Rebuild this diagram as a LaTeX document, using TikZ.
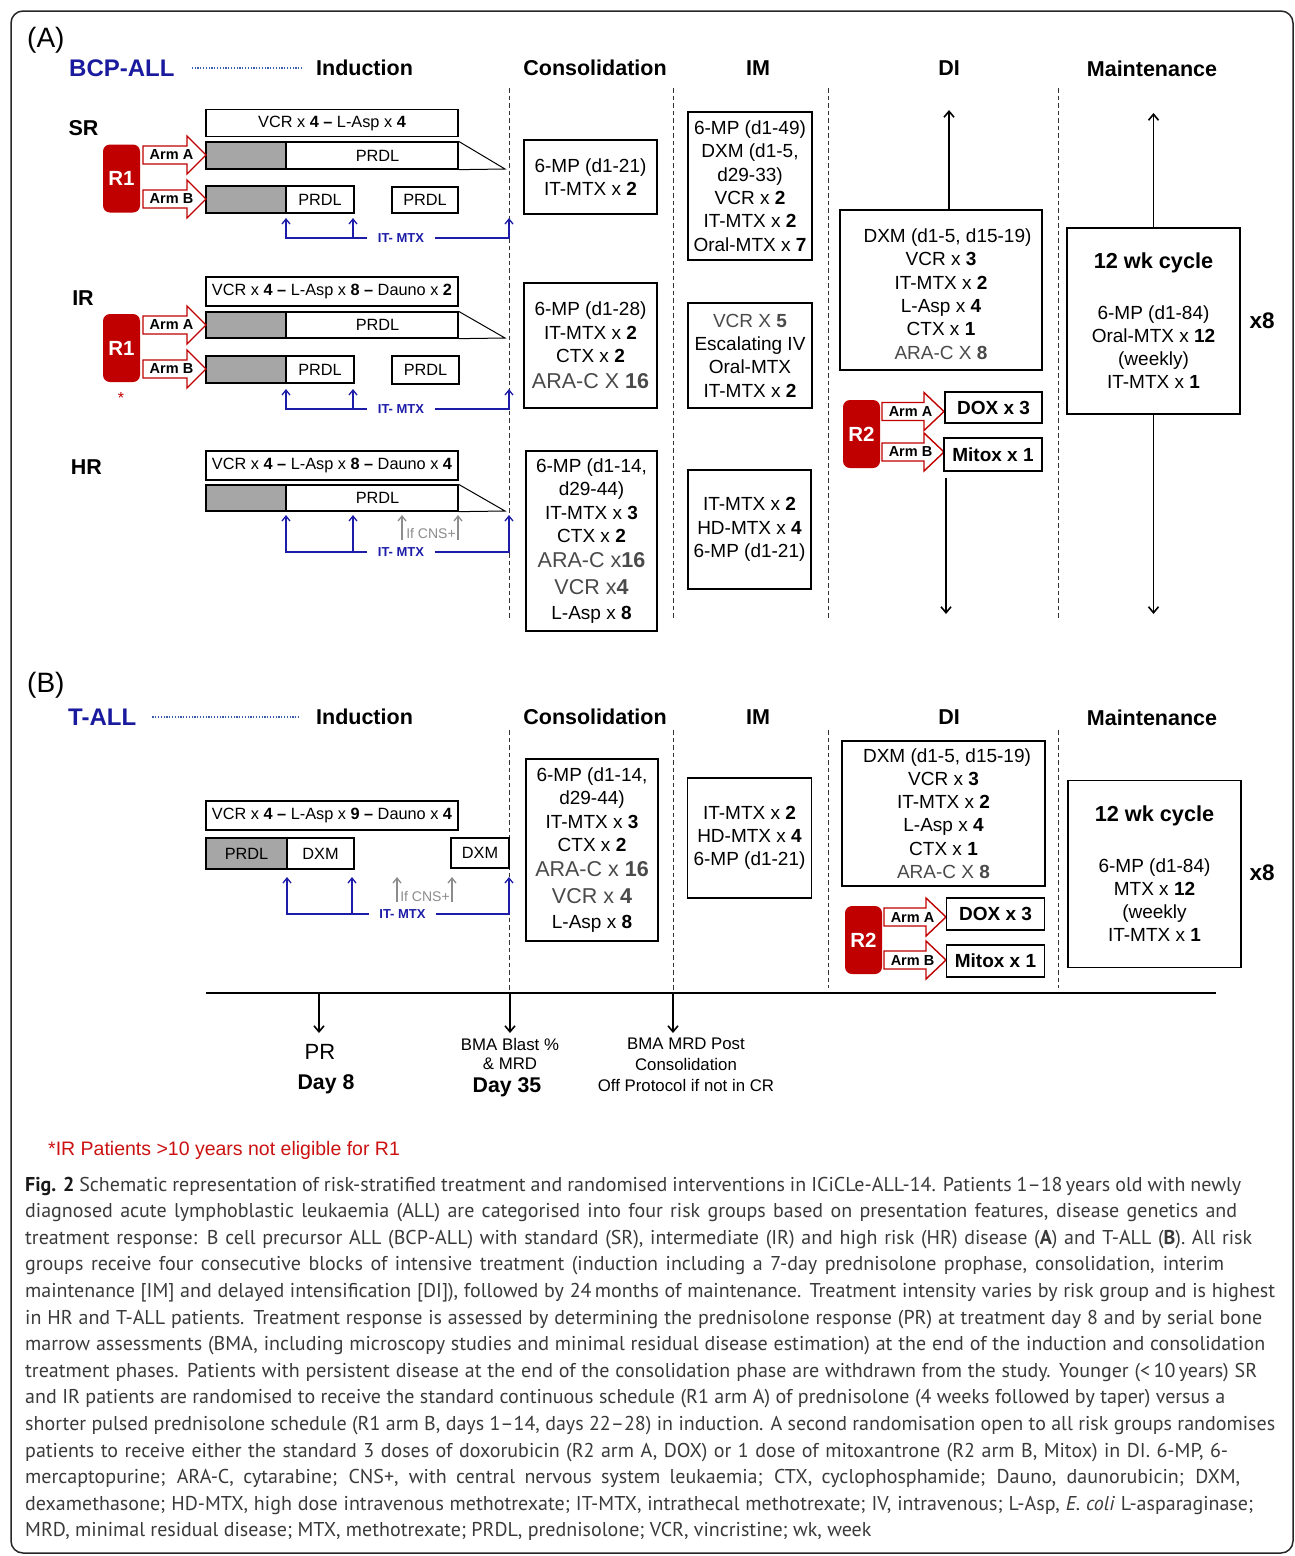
\documentclass[tikz,border=0pt]{standalone}
\usepackage{fontspec}
\setmainfont{Liberation Sans}
\newfontfamily\capfont{PT Sans}
\usetikzlibrary{arrows.meta}
\definecolor{rred}{HTML}{C00000}
\definecolor{bblue}{HTML}{1A1A9E}
\definecolor{dotblue}{HTML}{3A5DB0}
\definecolor{itblue}{HTML}{1C1CA8}
\definecolor{gfill}{HTML}{A6A6A6}
\definecolor{gtext}{HTML}{4A4A4A}
\definecolor{garrow}{HTML}{8C8C8C}
\definecolor{captxt}{HTML}{3A3A3A}
\definecolor{fnred}{HTML}{CC1111}
\newcommand\gbig{\fontsize{21.5}{23.3}\selectfont\color{gtext}}
\newcommand\capline[2]{\makebox[#1pt][s]{#2}}
\newcommand\armarr[6]{%
  \draw[armline] (#1,#4-9) -- (#2,#4-9) -- (#2,#4-19) -- (#3,#4) -- (#2,#4+19) -- (#2,#4+9) -- (#1,#4+9) -- cycle;
  \node[armtxt] (#5) at ({#1+28.5},#4) {#6};}
\begin{document}
\begin{tikzpicture}[x=1pt,y=-1pt,
  hdr/.style={font=\fontsize{21.5}{26}\selectfont\bfseries, inner sep=0pt},
  grp/.style={font=\fontsize{24}{28}\selectfont\bfseries, text=bblue, inner sep=0pt},
  panel/.style={font=\fontsize{28}{32}\selectfont, inner sep=0pt},
  risk/.style={font=\fontsize{21.5}{26}\selectfont\bfseries, inner sep=0pt},
  bx/.style={draw=black, line width=1.3pt, fill=white, inner sep=0pt, align=center, font=\fontsize{19}{23.3}\selectfont},
  bxb/.style={bx, font=\fontsize{19}{23}\selectfont\bfseries},
  ib/.style={draw=black, line width=1.3pt, fill=white, inner sep=0pt, font=\fontsize{16.3}{20}\selectfont},
  ig/.style={ib, fill=gfill},
  rbox/.style={fill=rred, rounded corners=7pt, text=white, inner sep=0pt, minimum width=37pt, minimum height=68pt, font=\fontsize{20.5}{24}\selectfont\bfseries},
  armline/.style={draw=rred, fill=white, line width=1.4pt, line join=miter},
  armtxt/.style={font=\fontsize{14.5}{17}\selectfont\bfseries, inner sep=0pt},
  itlbl/.style={text=itblue, font=\fontsize{13}{15}\selectfont\bfseries, inner xsep=10.5pt, inner ysep=0pt},
  itl/.style={draw=itblue, line width=1.3pt},
  ita/.style={itl, -{Straight Barb[length=5pt,width=8pt]}},
  cnsa/.style={draw=garrow, line width=1.3pt, -{Straight Barb[length=5pt,width=8pt]}},
  cnst/.style={text=garrow, font=\fontsize{14}{16}\selectfont, inner sep=0pt},
  phase/.style={draw=black!80, line width=1pt, dash pattern=on 4.5pt off 3pt},
  dotl/.style={draw=dotblue, line width=1.6pt, dash pattern=on 1.3pt off 1.5pt},
  blk/.style={draw=black, line width=1.6pt, -{Straight Barb[length=6pt,width=10pt]}},
  taper/.style={draw=black, line width=1pt},
  tlt/.style={font=\fontsize{16.8}{20}\selectfont, inner sep=0pt},
  tlb/.style={font=\fontsize{21.3}{26}\selectfont\bfseries, inner sep=0pt},
  xeight/.style={font=\fontsize{22.5}{26}\selectfont\bfseries, inner sep=0pt},
  capl/.style={anchor=base west, inner sep=0pt, text=captxt, font=\capfont\fontsize{20}{26}\selectfont}
]
\useasboundingbox (0,0) rectangle (1295,1556);
\draw[draw=black!85, line width=1.5pt, rounded corners=12pt] (11,11) rectangle (1293,1553);

% ================= Panel A header
\node[panel, anchor=west] (pA) at (27,40) {(A)};
\node[grp, anchor=west] (bcp) at (69,68) {BCP-ALL};
\node[hdr] (hIndA) at (364.5,68) {Induction};
\draw[dotl, shorten <=17pt, shorten >=14pt] (bcp.east) -- (hIndA.west);
\node[hdr] (hConsA) at (595,68) {Consolidation};
\node[hdr] (hIMA) at (758,68) {IM};
\node[hdr] (hDIA) at (949,68) {DI};
\node[hdr] (hMainA) at (1152,69) {Maintenance};
\draw[phase] (509,88) -- (509,620);
\draw[phase] (673,88) -- (673,620);
\draw[phase] (828,88) -- (828,620);
\draw[phase] (1058,88) -- (1058,620);

% risk labels
\node[risk] (lSR) at (83.5,128) {SR};
\node[risk] (lIR) at (83,298) {IR};
\node[risk] (lHR) at (86.5,467) {HR};

% ---------- SR induction
\node[ib, minimum width=252pt, minimum height=27pt] (srV) at (332,123) {VCR x \textbf{4} \textbf{–} L-Asp x \textbf{4}};
\node[ig, minimum width=80pt, minimum height=27pt] (srAg) at (246,155.5) {};
\node[ib, minimum width=172pt, minimum height=27pt] (srAp) at (372,155.5) {\hspace*{11pt}PRDL};
\coordinate (srAt) at (505,169);
\draw[taper] (srAp.north east) -- (srAt) -- (srAp.south east);
\node[ig, minimum width=80pt, minimum height=27pt] (srBg) at (246,199.5) {};
\node[ib, minimum width=68pt, minimum height=27pt] (srBp) at (320,199.5) {PRDL};
\node[ib, minimum width=66pt, minimum height=26pt] (srBq) at (425,200) {PRDL};
\node[rbox] (srR) at (121.5,178.5) {R1};
\armarr{143}{187}{206}{155}{srArmA}{Arm A}
\armarr{143}{187}{206}{199}{srArmB}{Arm B}
\node[itlbl] (srIT) at (401,238) {IT- MTX};
\coordinate (srI1) at (286,218);
\coordinate (srI2) at (353,218);
\coordinate (srI3) at (509,218);
\draw[ita] (srIT.west) -| (srI1);
\draw[ita] (srI2 |- srIT.west) -- (srI2);
\draw[ita] (srIT.east) -| (srI3);

% ---------- IR induction
\node[ib, minimum width=252pt, minimum height=29pt] (irV) at (332,291.5) {VCR x \textbf{4} \textbf{–} L-Asp x \textbf{8} \textbf{–} Dauno x \textbf{2}};
\node[ig, minimum width=80pt, minimum height=26pt] (irAg) at (246,325) {};
\node[ib, minimum width=172pt, minimum height=26pt] (irAp) at (372,325) {\hspace*{11pt}PRDL};
\coordinate (irAt) at (505,338);
\draw[taper] (irAp.north east) -- (irAt) -- (irAp.south east);
\node[ig, minimum width=80pt, minimum height=27pt] (irBg) at (246,369.5) {};
\node[ib, minimum width=68pt, minimum height=27pt] (irBp) at (320,369.5) {PRDL};
\node[ib, minimum width=67pt, minimum height=28pt] (irBq) at (425.5,370) {PRDL};
\node[rbox] (irR) at (121.5,348) {R1};
\node[text=rred, font=\fontsize{16}{18}\selectfont, inner sep=0pt] (irStar) at (121,398) {*};
\armarr{143}{187}{206}{325}{irArmA}{Arm A}
\armarr{143}{187}{206}{369}{irArmB}{Arm B}
\node[itlbl] (irIT) at (401,409) {IT- MTX};
\coordinate (irI1) at (286,389);
\coordinate (irI2) at (353,389);
\coordinate (irI3) at (509,389);
\draw[ita] (irIT.west) -| (irI1);
\draw[ita] (irI2 |- irIT.west) -- (irI2);
\draw[ita] (irIT.east) -| (irI3);

% ---------- HR induction
\node[ib, minimum width=252pt, minimum height=29pt] (hrV) at (332,465.5) {VCR x \textbf{4} \textbf{–} L-Asp x \textbf{8} \textbf{–} Dauno x \textbf{4}};
\node[ig, minimum width=80pt, minimum height=26pt] (hrg) at (246,498) {};
\node[ib, minimum width=172pt, minimum height=26pt] (hrp) at (372,498) {\hspace*{11pt}PRDL};
\coordinate (hrt) at (505,511);
\draw[taper] (hrp.north east) -- (hrt) -- (hrp.south east);
\node[itlbl] (hrIT) at (401,552) {IT- MTX};
\coordinate (hrI1) at (286,515);
\coordinate (hrI2) at (353,515);
\coordinate (hrI3) at (509,515);
\draw[ita] (hrIT.west) -| (hrI1);
\draw[ita] (hrI2 |- hrIT.west) -- (hrI2);
\draw[ita] (hrIT.east) -| (hrI3);
\node[cnst] (hrCNS) at (431,533) {If CNS+};
\coordinate (hrC1a) at (402,540); \coordinate (hrC1) at (402,515);
\coordinate (hrC2a) at (458,540); \coordinate (hrC2) at (458,515);
\draw[cnsa] (hrC1a) -- (hrC1);
\draw[cnsa] (hrC2a) -- (hrC2);

% ---------- Consolidation A
\node[bx, minimum width=133pt, minimum height=74pt] (cSR) at (590.5,177) {6-MP (d1-21)\\ IT-MTX x \textbf{2}};
\node[bx, minimum width=133pt, minimum height=125pt] (cIR) at (590.5,345.5) {6-MP (d1-28)\\ IT-MTX x \textbf{2}\\ CTX x \textbf{2}\\[3pt] {\gbig ARA-C X \textbf{16}}};
\node[bx, minimum width=131pt, minimum height=180pt] (cHR) at (591.5,541) {6-MP (d1-14,\\ d29-44)\\ IT-MTX x \textbf{3}\\ CTX x \textbf{2}\\[2pt] {\gbig ARA-C x\textbf{16}}\\[3pt] {\gbig VCR x\textbf{4}}\\[2pt] L-Asp x \textbf{8}};

% ---------- IM A
\node[bx, minimum width=124pt, minimum height=148pt] (mSR) at (750,186) {6-MP (d1-49)\\ DXM (d1-5,\\ d29-33)\\ VCR x \textbf{2}\\ IT-MTX x \textbf{2}\\ Oral-MTX x \textbf{7}};
\node[bx, minimum width=124pt, minimum height=105pt] (mIR) at (750,355.5) {{\color{gtext}VCR X \textbf{5}}\\ Escalating IV\\ Oral-MTX\\ IT-MTX x \textbf{2}};
\node[bx, minimum width=123pt, minimum height=119pt] (mHR) at (749.5,529.5) {IT-MTX x \textbf{2}\\ HD-MTX x \textbf{4}\\ 6-MP (d1-21)};

% ---------- DI A
\node[bx, minimum width=202pt, minimum height=160pt] (dA) at (941,290) {\rule{0pt}{22pt}\hspace*{13pt}DXM (d1-5, d15-19)\\ VCR x \textbf{3}\\ IT-MTX x \textbf{2}\\ L-Asp x \textbf{4}\\ CTX x \textbf{1}\\ {\color{gtext}ARA-C X \textbf{8}}};
\coordinate (dAup) at (949,110);
\draw[blk] ([xshift=8pt]dA.north) -- (dAup);
\node[rbox] (dAR) at (861.5,434) {R2};
\armarr{882}{924}{944}{411.5}{dAarmA}{Arm A}
\armarr{882}{924}{944}{452}{dAarmB}{Arm B}
\node[bxb, minimum width=97pt, minimum height=31pt] (doxA) at (993.5,407.5) {DOX x 3};
\node[bxb, minimum width=98pt, minimum height=33pt] (mitA) at (993,454.5) {Mitox x 1};
\coordinate (dAs) at (946,478);
\coordinate (dAdn) at (946,614);
\draw[blk] (dAs) -- (dAdn);

% ---------- Maintenance A
\node[bx, minimum width=173pt, minimum height=186pt] (mtA) at (1153.5,321) {{\fontsize{21.7}{26}\selectfont\bfseries 12 wk cycle}\\[27pt] 6-MP (d1-84)\\ Oral-MTX x \textbf{12}\\ (weekly)\\ IT-MTX x \textbf{1}};
\coordinate (mtAup) at (1153.5,113);
\coordinate (mtAdn) at (1153.5,614);
\draw[blk] (mtA.north) -- (mtAup);
\draw[blk] (mtA.south) -- (mtAdn);
\node[xeight] (x8A) at (1262,321) {x8};

% ================= Panel B header
\node[panel, anchor=west] (pB) at (27,685) {(B)};
\node[grp, anchor=west] (tall) at (68,717) {T-ALL};
\node[hdr] (hIndB) at (364.5,717) {Induction};
\draw[dotl, shorten <=16pt, shorten >=16pt] (tall.east) -- (hIndB.west);
\node[hdr] (hConsB) at (595,717) {Consolidation};
\node[hdr] (hIMB) at (758,717) {IM};
\node[hdr] (hDIB) at (949,717) {DI};
\node[hdr] (hMainB) at (1152,718) {Maintenance};
\draw[phase] (509,730) -- (509,993);
\draw[phase] (673,730) -- (673,993);
\draw[phase] (828,730) -- (828,988);
\draw[phase] (1058,730) -- (1058,988);

% ---------- T-ALL induction
\node[ib, minimum width=252pt, minimum height=29pt] (tV) at (332,815.5) {VCR x \textbf{4} \textbf{–} L-Asp x \textbf{9} \textbf{–} Dauno x \textbf{4}};
\node[ig, minimum width=81pt, minimum height=31pt] (tP) at (246.5,853.5) {PRDL};
\node[ib, minimum width=67pt, minimum height=31pt] (tD1) at (320.5,853.5) {DXM};
\node[ib, minimum width=58pt, minimum height=30pt] (tD2) at (480,853) {DXM};
\node[itlbl] (tIT) at (402.5,914) {IT- MTX};
\coordinate (tI1) at (287,877);
\coordinate (tI2) at (352,877);
\coordinate (tI3) at (509,877);
\draw[ita] (tIT.west) -| (tI1);
\draw[ita] (tI2 |- tIT.west) -- (tI2);
\draw[ita] (tIT.east) -| (tI3);
\node[cnst] (tCNS) at (425,896) {If CNS+};
\coordinate (tC1a) at (397,902); \coordinate (tC1) at (397,877);
\coordinate (tC2a) at (452,902); \coordinate (tC2) at (452,877);
\draw[cnsa] (tC1a) -- (tC1);
\draw[cnsa] (tC2a) -- (tC2);

% ---------- Consolidation / IM / DI / Maintenance B
\node[bx, minimum width=132pt, minimum height=182pt] (cT) at (592,850) {6-MP (d1-14,\\ d29-44)\\ IT-MTX x \textbf{3}\\ CTX x \textbf{2}\\[2pt] {\gbig ARA-C x \textbf{16}}\\[3pt] {\gbig VCR x \textbf{4}}\\[2pt] L-Asp x \textbf{8}};
\node[bx, minimum width=124pt, minimum height=120pt] (mT) at (749.5,838) {IT-MTX x \textbf{2}\\ HD-MTX x \textbf{4}\\ 6-MP (d1-21)};
\node[bx, minimum width=203pt, minimum height=145pt] (dT) at (943.5,813.5) {\hspace*{7pt}DXM (d1-5, d15-19)\\ VCR x \textbf{3}\\ IT-MTX x \textbf{2}\\ L-Asp x \textbf{4}\\ CTX x \textbf{1}\\ {\color{gtext}ARA-C X \textbf{8}}};
\node[rbox] (dTR) at (863.5,940) {R2};
\armarr{884}{926}{946}{917}{dTarmA}{Arm A}
\armarr{884}{926}{946}{960}{dTarmB}{Arm B}
\node[bxb, minimum width=98pt, minimum height=32pt] (doxT) at (995.5,914) {DOX x 3};
\node[bxb, minimum width=98pt, minimum height=32pt] (mitT) at (995.5,961) {Mitox x 1};
\node[bx, minimum width=173pt, minimum height=187pt] (mtT) at (1154.5,874) {{\fontsize{21.7}{26}\selectfont\bfseries 12 wk cycle}\\[27pt] 6-MP (d1-84)\\ MTX x \textbf{12}\\ (weekly\\ IT-MTX x \textbf{1}};
\node[xeight] (x8T) at (1262,873) {x8};

% ================= Timeline
\coordinate (tlL) at (206,993);
\coordinate (tlR) at (1216,993);
\draw[line width=2.5pt] (tlL) -- (tlR);
\coordinate (t1) at (319,993); \coordinate (t1e) at (319,1033);
\coordinate (t2) at (510,993); \coordinate (t2e) at (510,1033);
\coordinate (t3) at (673,993); \coordinate (t3e) at (673,1033);
\draw[blk] (t1) -- (t1e);
\draw[blk] (t2) -- (t2e);
\draw[blk] (t3) -- (t3e);
\node[font=\fontsize{22}{26}\selectfont, inner sep=0pt] (prT) at (320,1052) {PR};
\node[tlb] (d8) at (326,1084) {Day 8};
\node[tlt] (bma1) at (510,1044) {BMA Blast \%};
\node[tlt] (bma2) at (510,1064) {\& MRD};
\node[tlb] (d35) at (507,1087) {Day 35};
\node[tlt] (bmr1) at (686,1044) {BMA MRD Post};
\node[tlt] (bmr2) at (686,1064) {Consolidation};
\node[tlt] (bmr3) at (686,1085) {Off Protocol if not in CR};

% ================= Footnote
\node[anchor=west, text=fnred, font=\fontsize{19.5}{23}\selectfont, inner sep=0pt] (fn) at (48,1150) {*IR Patients >10 years not eligible for R1};

% ================= Caption
\node[capl] (c1) at (25,1191) {\capline{1216}{{\color{black!90}\textbf{Fig. 2}} Schematic representation of risk-stratified treatment and randomised interventions in ICiCLe-ALL-14. Patients 1–18\,years old with newly}};
\node[capl] (c2) at (25,1217.6) {\capline{1212}{diagnosed acute lymphoblastic leukaemia (ALL) are categorised into four risk groups based on presentation features, disease genetics and}};
\node[capl] (c3) at (25,1244.2) {\capline{1227}{treatment response: B cell precursor ALL (BCP-ALL) with standard (SR), intermediate (IR) and high risk (HR) disease (\textbf{A}) and T-ALL (\textbf{B}). All risk}};
\node[capl] (c4) at (25,1270.8) {\capline{1199}{groups receive four consecutive blocks of intensive treatment (induction including a 7-day prednisolone prophase, consolidation, interim}};
\node[capl] (c5) at (25,1297.4) {\capline{1250}{maintenance [IM] and delayed intensification [DI]), followed by 24\,months of maintenance. Treatment intensity varies by risk group and is highest}};
\node[capl] (c6) at (25,1324) {\capline{1237}{in HR and T-ALL patients. Treatment response is assessed by determining the prednisolone response (PR) at treatment day 8 and by serial bone}};
\node[capl] (c7) at (25,1350.6) {\capline{1240}{marrow assessments (BMA, including microscopy studies and minimal residual disease estimation) at the end of the induction and consolidation}};
\node[capl] (c8) at (25,1377.2) {\capline{1232}{treatment phases. Patients with persistent disease at the end of the consolidation phase are withdrawn from the study. Younger (<\,10\,years) SR}};
\node[capl] (c9) at (25,1403.8) {\capline{1200}{and IR patients are randomised to receive the standard continuous schedule (R1 arm A) of prednisolone (4 weeks followed by taper) versus a}};
\node[capl] (c10) at (25,1430.4) {\capline{1250}{shorter pulsed prednisolone schedule (R1 arm B, days 1–14, days 22–28) in induction. A second randomisation open to all risk groups randomises}};
\node[capl] (c11) at (25,1457) {\capline{1203}{patients to receive either the standard 3 doses of doxorubicin (R2 arm A, DOX) or 1 dose of mitoxantrone (R2 arm B, Mitox) in DI. 6-MP, 6-}};
\node[capl] (c12) at (25,1483.6) {\capline{1215}{mercaptopurine; ARA-C, cytarabine; CNS+, with central nervous system leukaemia; CTX, cyclophosphamide; Dauno, daunorubicin; DXM,}};
\node[capl] (c13) at (25,1510.2) {\capline{1228}{dexamethasone; HD-MTX, high dose intravenous methotrexate; IT-MTX, intrathecal methotrexate; IV, intravenous; L-Asp, \textit{E. coli} L-asparaginase;}};
\node[capl] (c14) at (25,1536.8) {MRD, minimal residual disease; MTX, methotrexate; PRDL, prednisolone; VCR, vincristine; wk, week};
\end{tikzpicture}
\end{document}
